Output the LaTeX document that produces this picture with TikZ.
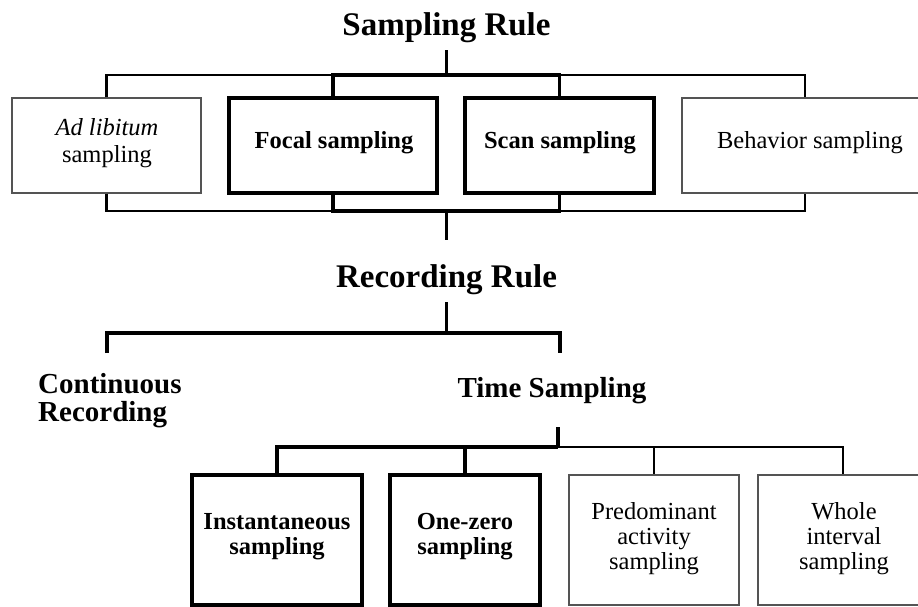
\documentclass[tikz,border=0pt]{standalone}
\usepackage{fontspec}
\setmainfont{Liberation Serif}
\definecolor{thinc}{gray}{0.33}
\begin{document}
\begin{tikzpicture}[x=1pt,y=-1pt,
  line join=miter,
  thinbox/.style={draw=thinc, line width=1.2pt, rectangle, inner sep=0pt},
  thickbox/.style={draw=black, line width=3.6pt, rectangle, inner sep=0pt},
  boxtext/.style={font=\fontsize{24.5}{27}\selectfont, align=center, inner sep=0pt},
  boldtext/.style={font=\fontsize{24.5}{27}\selectfont\bfseries, align=center, inner sep=0pt},
  lowtext/.style={font=\fontsize{24.5}{25}\selectfont, align=center, inner sep=0pt},
  lowbold/.style={font=\fontsize{24.5}{25}\selectfont\bfseries, align=center, inner sep=0pt},
  titletext/.style={font=\fontsize{33}{36}\selectfont\bfseries, inner sep=0pt},
  subtext/.style={font=\fontsize{29}{28}\selectfont\bfseries, inner sep=0pt},
  thinline/.style={draw=black, line width=2.2pt},
  thickline/.style={draw=black, line width=3.6pt}]
\useasboundingbox (0,0) rectangle (918,606);
\clip (0,0) rectangle (918,606);

% titles
\node[titletext, anchor=base] (samp) at (446.5,35) {Sampling Rule};
\node[titletext, anchor=base] (rec) at (446.5,287) {Recording Rule};
\node[subtext, anchor=north west, align=left] (cont) at (38,373.5) {Continuous\\Recording};
\node[subtext, anchor=base] (time) at (552,397) {Time Sampling};

% top row boxes
\node[thinbox, minimum width=189pt, minimum height=95pt] (adlib) at (106.5,145.5) {};
\node[thickbox, minimum width=208pt, minimum height=95pt] (focal) at (333,145.5) {};
\node[thickbox, minimum width=189pt, minimum height=95pt] (scan) at (559.5,145.5) {};
\node[thinbox, minimum width=246pt, minimum height=95pt] (behav) at (805,145.5) {};

\node[boxtext] (adlibT) at (107,143) {\textit{Ad libitum}\\sampling};
\node[boldtext] (focalT) at (334,143) {Focal sampling};
\node[boldtext] (scanT) at (560,143) {Scan sampling};
\node[boxtext] (behavT) at (810,143) {Behavior sampling};

% lower row boxes
\node[thickbox, minimum width=170pt, minimum height=130pt] (inst) at (277,540) {};
\node[thickbox, minimum width=150pt, minimum height=130pt] (onezero) at (465,540) {};
\node[thinbox, minimum width=170pt, minimum height=130pt] (predom) at (654,540) {};
\node[thinbox, minimum width=170pt, minimum height=130pt] (whole) at (843,540) {};

\node[lowbold] (instT) at (277,537) {Instantaneous\\sampling};
\node[lowbold] (onezeroT) at (465,537) {One-zero\\sampling};
\node[lowtext] (predomT) at (654,539) {Predominant\\activity\\sampling};
\node[lowtext] (wholeT) at (844,539) {Whole\\interval\\sampling};

% coordinates
\coordinate (s1top) at (446.5,50);
\coordinate (tb) at (446.5,75);
\coordinate (bb) at (446.5,211);
\coordinate (s1bot) at (446.5,240);
\coordinate (r1) at (446.5,302);
\coordinate (rb) at (446.5,333);
\coordinate (c1) at (107,353);
\coordinate (t1) at (560,353);
\coordinate (ts1) at (558,427);
\coordinate (lb) at (558,447);

% sampling rule bracket
\draw[thickline] (s1top) -- (tb);
\draw[thinline] (adlib.north) |- (focal.north |- tb);
\draw[thickline] (focal.north) -- (focal.north |- tb) -- (scan.north |- tb) -- (scan.north);
\draw[thinline] (scan.north |- tb) -| (behav.north);
\draw[thinline] (adlib.south) |- (focal.south |- bb);
\draw[thickline] (focal.south) -- (focal.south |- bb) -- (scan.south |- bb) -- (scan.south);
\draw[thinline] (scan.south |- bb) -| (behav.south);
\draw[thickline] (bb) -- (s1bot);

% recording rule bracket
\draw[thickline] (r1) -- (rb);
\draw[thickline] (c1) |- (rb) -| (t1);

% time sampling bracket
\draw[thickline] (ts1) -- (lb);
\draw[thickline] (inst.north) |- (lb);
\draw[thickline] (onezero.north) -- (onezero.north |- lb);
\draw[thinline] (lb) -| (predom.north);
\draw[thinline] (predom.north |- lb) -| (whole.north);
\end{tikzpicture}
\end{document}
